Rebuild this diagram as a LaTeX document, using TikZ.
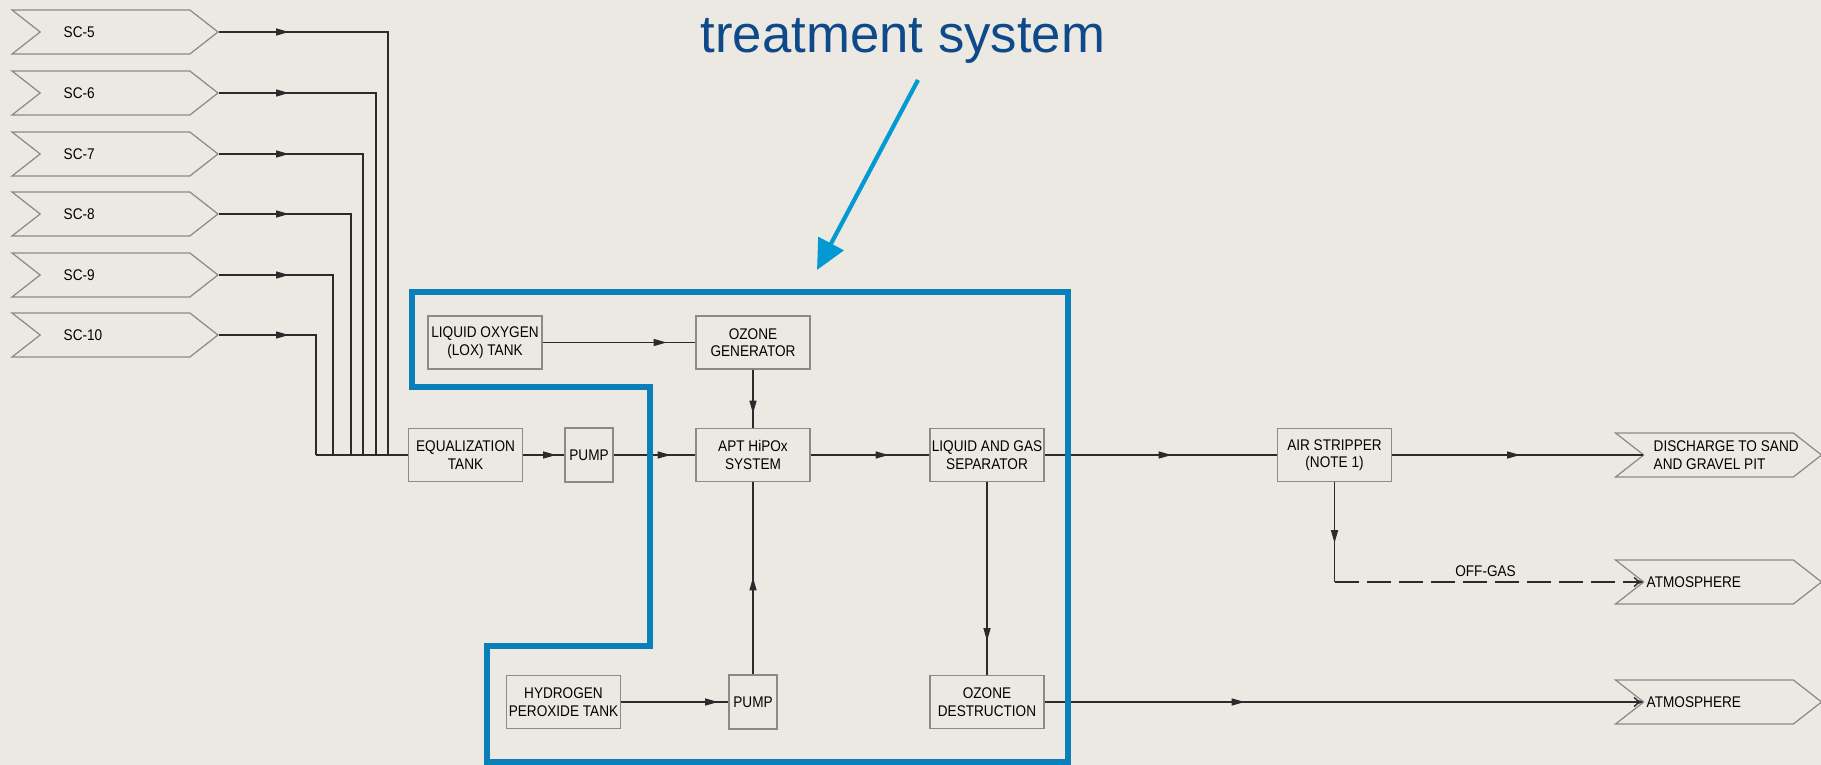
\documentclass[tikz,border=0pt]{standalone}
\usepackage{fontspec}
\setmainfont{Liberation Sans}
\newfontfamily\plantfamily[FakeStretch=0.88]{Liberation Sans}
\usepackage{xcolor}
\usepackage{tikz}
\usetikzlibrary{arrows.meta, positioning, shapes.symbols, decorations.markings}
\definecolor{bgpaper}{HTML}{ECE9E3}
\definecolor{hiblue}{HTML}{0B80B8}
\definecolor{calloutblue}{HTML}{0399D3}
\definecolor{titleblue}{HTML}{0E4A8A}
\definecolor{inkgrey}{HTML}{2B2B2B}
\definecolor{boxgrey}{HTML}{8A8A8A}
\newcommand\plantfont{\plantfamily\fontsize{4.4}{5}\selectfont}
\newcommand\calloutfont{\fontsize{15}{18}\selectfont}
\tikzset{
  unitbox/.style={rectangle,draw=boxgrey,line width=0.35pt,minimum width=11.4mm,minimum height=5.3mm,inner sep=0pt,align=center,text=black,font=\plantfont},
  pumpbox/.style={unitbox,minimum width=4.8mm,minimum height=5.4mm},
  tagnode/.style={signal,signal to=east,signal from=west,signal pointer angle=76,draw=boxgrey,line width=0.35pt,minimum width=20.6mm,minimum height=4.4mm,inner sep=0pt},
  tagtext/.style={anchor=west,inner sep=0pt,align=left,text=black,font=\plantfont},
  flow/.style={draw=inkgrey,line width=0.4pt},
  midarrow/.style={postaction={decorate},decoration={markings,mark=at position #1 with {\arrow{Triangle[length=1.3mm,width=0.7mm]}}}},
  endarrow/.style={-{To[length=0.9mm,width=1mm]}},
  offgas/.style={dash pattern=on 2.4mm off 0.8mm},
  hiregion/.style={draw=hiblue,line width=1.5pt},
  callout/.style={-{Triangle[length=3mm,width=2.8mm]},draw=calloutblue,line width=1.2pt},
}

\begin{document}
\begin{tikzpicture}[x=0.1mm,y=-0.1mm]
  \fill[bgpaper] (0,0) rectangle (1821,765);
  \useasboundingbox (0,0) rectangle (1821,765);
  % sample collection tags
  \node[tagnode] (nSC5) at (115,32) {};
  \node[tagtext] (nSC5txt) at (63,32) {SC-5};
  \node[tagnode] (nSC6) at (115,93) {};
  \node[tagtext] (nSC6txt) at (63,93) {SC-6};
  \node[tagnode] (nSC7) at (115,154) {};
  \node[tagtext] (nSC7txt) at (63,154) {SC-7};
  \node[tagnode] (nSC8) at (115,214) {};
  \node[tagtext] (nSC8txt) at (63,214) {SC-8};
  \node[tagnode] (nSC9) at (115,275) {};
  \node[tagtext] (nSC9txt) at (63,275) {SC-9};
  \node[tagnode] (nSC10) at (115,335) {};
  \node[tagtext] (nSC10txt) at (63,335) {SC-10};
  \coordinate (nJ5) at (388,455);
  \coordinate (nJ6) at (376,455);
  \coordinate (nJ7) at (363,455);
  \coordinate (nJ8) at (351,455);
  \coordinate (nJ9) at (333,455);
  \coordinate (nJ10) at (316,455);
  % process units
  \node[unitbox] (nEq) at (465.5,455) {EQUALIZATION\\TANK};
  \node[pumpbox] (nPumpA) at (589,455) {PUMP};
  \node[unitbox] (nApt) at (753,455) {APT HiPOx\\SYSTEM};
  \node[unitbox] (nLox) at (485,342.5) {LIQUID OXYGEN\\(LOX) TANK};
  \node[unitbox] (nOzGen) at (753,342.5) {OZONE\\GENERATOR};
  \node[unitbox] (nH2O2) at (563.5,702) {HYDROGEN\\PEROXIDE TANK};
  \node[pumpbox] (nPumpB) at (753,702) {PUMP};
  \node[unitbox] (nSep) at (987,455) {LIQUID AND GAS\\SEPARATOR};
  \node[unitbox] (nOzDest) at (987,702) {OZONE\\DESTRUCTION};
  \node[unitbox] (nAir) at (1334.5,455) {AIR STRIPPER\\(NOTE 1)};
  % outlets
  \node[tagnode] (nDisch) at (1718.5,455) {};
  \node[tagtext] (nDischTxt) at (1653,455) {DISCHARGE TO SAND\\AND GRAVEL PIT};
  \node[tagnode] (nAtmA) at (1718.5,582) {};
  \node[tagtext] (nAtmATxt) at (1646,582) {ATMOSPHERE};
  \node[tagnode] (nAtmB) at (1718.5,702) {};
  \node[tagtext] (nAtmBTxt) at (1646,702) {ATMOSPHERE};
  \coordinate (nOffGas) at (nAir.south |- nAtmA.west);
  % piping
  \draw[flow,midarrow=7mm] (nSC5.east) -| (nJ5);
  \draw[flow,midarrow=7mm] (nSC6.east) -| (nJ6);
  \draw[flow,midarrow=7mm] (nSC7.east) -| (nJ7);
  \draw[flow,midarrow=7mm] (nSC8.east) -| (nJ8);
  \draw[flow,midarrow=7mm] (nSC9.east) -| (nJ9);
  \draw[flow,midarrow=7mm] (nSC10.east) -| (nJ10);
  \draw[flow] (nJ10) -- (nEq.west);
  \draw[flow,midarrow=3.3mm] (nEq) -- (nPumpA);
  \draw[flow,midarrow=5.7mm] (nPumpA) -- (nApt);
  \draw[flow,midarrow=12.4mm] (nLox) -- (nOzGen);
  \draw[flow,midarrow=4.4mm] (nOzGen) -- (nApt);
  \draw[flow,midarrow=9.7mm] (nH2O2) -- (nPumpB);
  \draw[flow,midarrow=9.7mm] (nPumpB) -- (nApt);
  \draw[flow,midarrow=7.8mm] (nApt) -- (nSep);
  \draw[flow,midarrow=15.9mm] (nSep) -- (nOzDest);
  \draw[flow,midarrow=12.7mm] (nSep) -- (nAir);
  \draw[flow,midarrow=12.8mm] (nAir) -- (nDisch.west);
  \draw[flow,midarrow=6.1mm] (nAir) -- (nOffGas);
  \draw[flow,offgas,endarrow] (nOffGas) -- node[pos=0.49,above,inner sep=0.5mm,font=\plantfont] (nOffGasTxt) {OFF-GAS} (nAtmA.west);
  \draw[flow,midarrow=20mm,endarrow] (nOzDest) -- (nAtmB.west);
  % treated region and callout
  \draw[hiregion] (412,292) -- (1068,292) -- (1068,762) -- (487,762) -- (487,646) -- (650,646) -- (650,387) -- (412,387) -- cycle;
  \node[anchor=base west,inner sep=0pt,text=titleblue,font=\calloutfont] (nTitle) at (700,53) {treatment system};
  \coordinate (nCallFrom) at (918,80);
  \coordinate (nCallTo) at (817,270);
  \draw[callout] (nCallFrom) -- (nCallTo);
\end{tikzpicture}
\end{document}
